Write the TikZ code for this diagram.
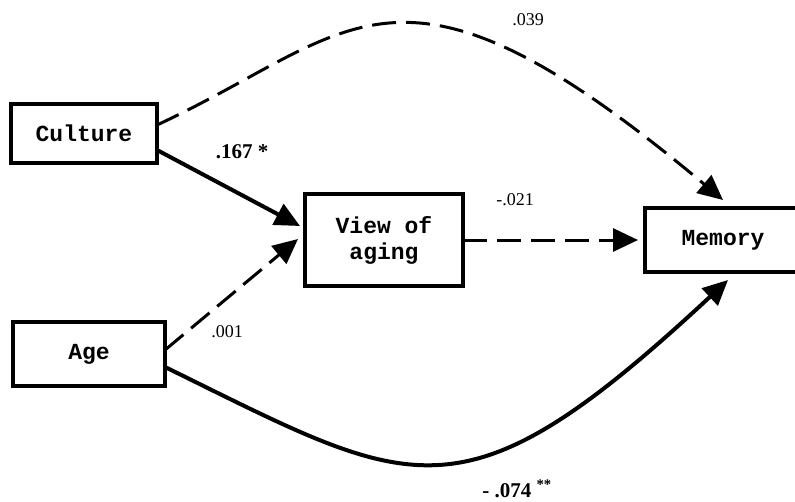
\documentclass[tikz,border=0pt]{standalone}
\usepackage{fontspec}
\setmainfont{Liberation Serif}
\setmonofont{Liberation Mono}
\usetikzlibrary{arrows.meta}

\begin{document}
\begin{tikzpicture}[
		x=1pt, y=-1pt,
		% Styles
		varbox/.style={draw=black, line width=3.5pt, inner sep=0pt, outer sep=0pt, align=center, font=\ttfamily\bfseries\fontsize{23}{26}\selectfont},
		coef/.style={font=\fontsize{18}{20}\selectfont},
		coefsig/.style={font=\bfseries\fontsize{21}{23}\selectfont},
		solidpath/.style={-{Triangle[length=25pt, width=23pt]}, line width=4pt},
		dashpath/.style={-{Triangle[length=25pt, width=23pt]}, line width=3pt, dash pattern=on 24pt off 10pt}
		]
		
		\useasboundingbox (0,0) rectangle (795,501);
		
		% =========================================================
		% 1. VARIABLES
		% =========================================================
		\node[varbox, minimum width=146pt, minimum height=59pt] (culture) at (84,133.5) {Culture};
		\node[varbox, minimum width=152pt, minimum height=64pt] (age) at (89,354) {Age};
		\node[varbox, minimum width=158pt, minimum height=92pt] (view) at (384,240) {View of\\aging};
		\node[varbox, minimum width=156pt, minimum height=64pt] (memory) at (723,240) {Memory};
		
		% =========================================================
		% 2. PATHS
		% =========================================================
		\draw[solidpath] ([yshift=-16.5pt]culture.east) -- ([xshift=-5pt, yshift=14pt]view.west);
		\draw[dashpath] ([yshift=4pt]age.east) -- ([xshift=-7pt, yshift=1pt]view.west);
		\draw[dashpath] (view.east) -- ([xshift=-7pt]memory.west);
		\draw[dashpath] ([yshift=8.5pt]culture.east) .. controls +(200,-93) and +(-327,-274) .. ([yshift=8pt]memory.north);
		\draw[solidpath] ([yshift=-13pt]age.east) .. controls +(250,122.5) and +(-268,249.5) .. ([xshift=5pt, yshift=-8pt]memory.south);
		
		% =========================================================
		% 3. COEFFICIENTS
		% =========================================================
		\node[coef] (c039) at (528,20) {.039};
		\node[coefsig] (c167) at (242,152) {.167 *};
		\node[coef] (c021) at (515,200) {-.021};
		\node[coef] (c001) at (227,332) {.001};
		\node[coefsig, anchor=base] (c074) at (517,497) {- .074 \textsuperscript{**}};
		
	\end{tikzpicture}
\end{document}
